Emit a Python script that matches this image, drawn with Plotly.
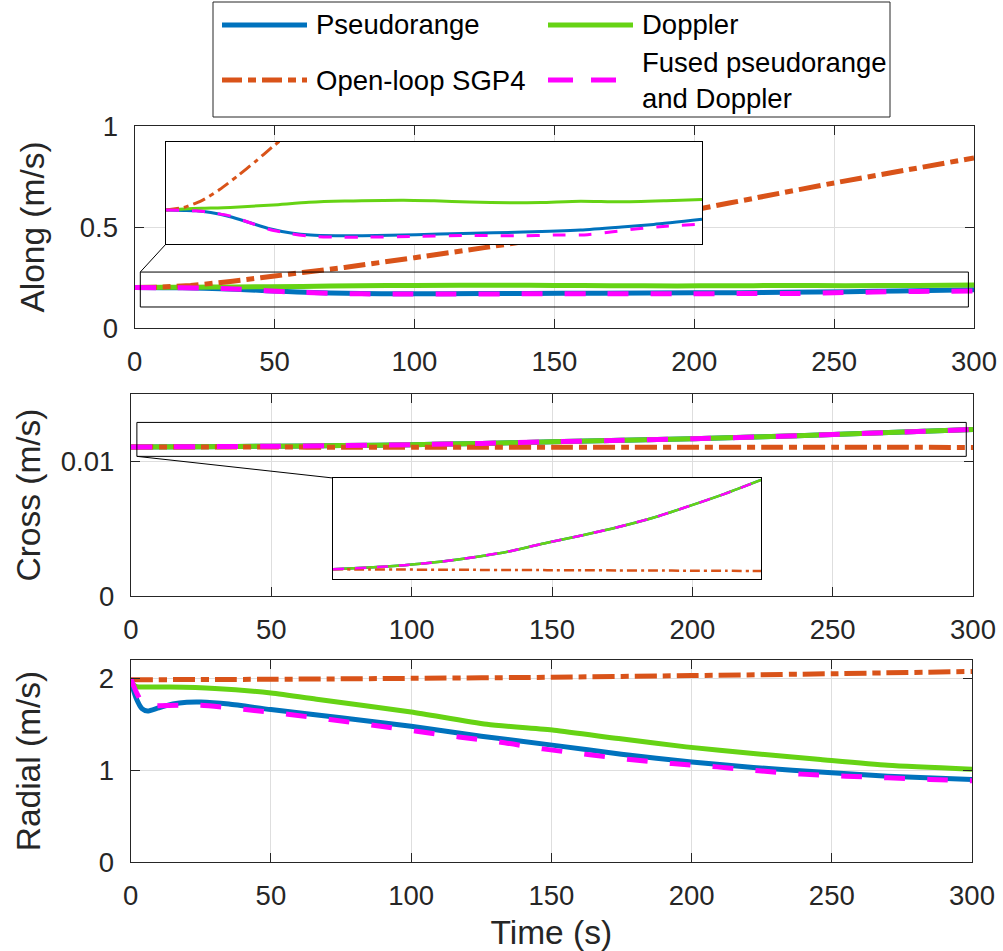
import plotly.graph_objects as go

# ---------------- data ----------------
time_ticks = [0, 50, 100, 150, 200, 250, 300]

# Along-track velocity error (m/s)
t_along_pr = [0, 10, 17, 25, 36, 47, 58, 70, 81, 95, 110, 140, 166, 200, 232, 255, 273, 300]
along_pr = [0.200, 0.1995, 0.199, 0.197, 0.192, 0.185, 0.178, 0.173, 0.1706, 0.1698, 0.1698,
            0.171, 0.1725, 0.174, 0.1765, 0.180, 0.183, 0.189]
t_along_dop = [0, 10, 20, 36, 60, 80, 100, 133, 150, 170, 194, 210, 232, 254, 280, 300]
along_dop = [0.200, 0.2012, 0.202, 0.203, 0.206, 0.209, 0.2105, 0.2116, 0.2108, 0.2095, 0.2085,
             0.2088, 0.2104, 0.2096, 0.211, 0.2124]
t_along_sgp4 = [0, 10, 20, 30, 40, 50, 60, 75, 100, 125, 150, 175, 200, 225, 250, 275, 300]
along_sgp4 = [0.200, 0.203, 0.211, 0.224, 0.240, 0.257, 0.275, 0.300, 0.348, 0.398, 0.452,
              0.518, 0.585, 0.652, 0.718, 0.780, 0.842]
t_along_fused = [0, 10, 17, 25, 36, 47, 58, 70, 81, 95, 110, 140, 166, 198, 217, 236, 250, 264, 280, 300]
along_fused = [0.200, 0.1995, 0.199, 0.197, 0.193, 0.185, 0.177, 0.172, 0.169, 0.168, 0.168,
               0.169, 0.170, 0.1697, 0.1705, 0.171, 0.1744, 0.178, 0.181, 0.1835]

# Cross-track velocity error (m/s)
t_cross = [0, 25, 50, 75, 100, 125, 150, 175, 200, 225, 250, 275, 300]
cross_pr = [0.011060, 0.011085, 0.011120, 0.011170, 0.011240, 0.011330, 0.011450,
            0.011560, 0.011680, 0.011820, 0.011990, 0.012170, 0.012370]
cross_dop = [0.011060, 0.011085, 0.011120, 0.011170, 0.011240, 0.011330, 0.011450,
             0.011560, 0.011680, 0.011820, 0.011990, 0.012170, 0.012370]
cross_sgp4 = [0.011060, 0.011058, 0.011056, 0.011054, 0.011052, 0.011050, 0.011048,
              0.011046, 0.011044, 0.011042, 0.011040, 0.011038, 0.011035]
cross_fused = [0.011060, 0.011085, 0.011120, 0.011170, 0.011240, 0.011330, 0.011450,
               0.011560, 0.011680, 0.011820, 0.011990, 0.012170, 0.012370]

# Radial velocity error (m/s)
t_rad_pr = [0, 2, 4, 6, 10, 15, 20, 25, 35, 50, 75, 100, 125, 151, 175, 200, 222, 250, 270, 300]
rad_pr = [1.97, 1.78, 1.67, 1.645, 1.68, 1.72, 1.74, 1.743, 1.72, 1.66, 1.57, 1.478, 1.37,
          1.27, 1.174, 1.09, 1.03, 0.971, 0.935, 0.899]
t_rad_dop = [0, 2, 5, 14, 30, 50, 67, 100, 127, 151, 174, 198, 222, 246, 270, 300]
rad_dop = [1.96, 1.91, 1.905, 1.905, 1.89, 1.84, 1.77, 1.634, 1.50, 1.435, 1.344, 1.254,
           1.181, 1.116, 1.054, 1.011]
t_rad_sgp4 = [0, 50, 100, 150, 200, 250, 300]
rad_sgp4 = [1.985, 1.99, 2.0, 2.012, 2.03, 2.05, 2.076]
t_rad_fused = [0, 2, 4, 6, 10, 25, 41, 56, 71, 86.5, 102, 117, 132, 147, 163, 178, 193, 209,
               224, 239, 255, 270, 285, 300]
rad_fused = [2.0, 1.85, 1.74, 1.70, 1.703, 1.707, 1.66, 1.609, 1.551, 1.489, 1.424, 1.362,
             1.305, 1.232, 1.17, 1.116, 1.072, 1.036, 0.993, 0.957, 0.935, 0.917, 0.899, 0.884]

names = ["Pseudorange", "Doppler", "Open-loop SGP4", "Fused pseudorange<br>and Doppler"]

# ---------------- layout geometry ----------------
W, H = 1003, 951
FONT = "Liberation Sans, Arial, Helvetica, sans-serif"
AX = "#262626"
GRID = "#dedede"
C_PR, C_DOP, C_SGP, C_FUS = "#0072BD", "#66D314", "#D95319", "#FF00FF"


def xdom(a, b):
    return [a / W, b / W]


def ydom(top, bottom):
    return [1 - bottom / H, 1 - top / H]


panels = {
    1: dict(x=xdom(134.7, 974), y=ydom(126, 328)),
    2: dict(x=xdom(131, 973), y=ydom(394, 596)),
    3: dict(x=xdom(130.7, 972), y=ydom(660, 862)),
    4: dict(x=xdom(166, 702), y=ydom(142, 244)),   # inset in Along
    5: dict(x=xdom(333, 761), y=ydom(478, 579)),   # inset in Cross
}

along_range = [0, 1]
cross_range = [0, 0.015]
rad_range = [0, 2.2]
along_inset_range = [0.16, 0.28]
cross_inset_range = [0.010918, 0.012399]
along_zoom_box = dict(t=[2, 298], v=[0.104, 0.277])
cross_zoom_box = dict(t=[2.1, 297.6], v=[0.01037, 0.01289])

fig = go.Figure()

main_w = 5
styles = [
    dict(color=C_PR, width=main_w),
    dict(color=C_DOP, width=main_w),
    dict(color=C_SGP, width=main_w, dash="22px,6px,8px,6px"),
    dict(color=C_FUS, width=main_w, dash="21px,22px"),
]


def add_set(series, xa, ya, line_styles):
    for i, (tx, vy) in enumerate(series):
        fig.add_trace(go.Scatter(
            x=tx, y=vy, mode="lines", name=names[i].replace("<br>", " "),
            line=dict(shape="spline", smoothing=0.6, **line_styles[i]),
            xaxis=xa, yaxis=ya, showlegend=False, hoverinfo="skip"))


along_series = [(t_along_pr, along_pr), (t_along_dop, along_dop),
                (t_along_sgp4, along_sgp4), (t_along_fused, along_fused)]
cross_series = [(t_cross, cross_pr), (t_cross, cross_dop),
                (t_cross, cross_sgp4), (t_cross, cross_fused)]
rad_series = [(t_rad_pr, rad_pr), (t_rad_dop, rad_dop),
              (t_rad_sgp4, rad_sgp4), (t_rad_fused, rad_fused)]

add_set(along_series, "x", "y", styles)
add_set(cross_series, "x2", "y2", styles)
add_set(rad_series, "x3", "y3", styles)

inset_a_styles = [
    dict(color=C_PR, width=3),
    dict(color=C_DOP, width=3),
    dict(color=C_SGP, width=3, dash="13px,5px,5px,5px"),
    dict(color=C_FUS, width=3, dash="13px,13px"),
]
inset_c_styles = [
    dict(color=C_PR, width=2.5),
    dict(color=C_DOP, width=2.5),
    dict(color=C_SGP, width=2.5, dash="10px,4px,3px,4px"),
    dict(color=C_FUS, width=2.5, dash="11px,11px"),
]
add_set(along_series, "x4", "y4", inset_a_styles)
add_set(cross_series, "x5", "y5", inset_c_styles)

tickfont = dict(family=FONT, size=27.5, color=AX)
titlefont = dict(family=FONT, size=33.5, color=AX)


def main_x(dom, title=None):
    d = dict(domain=dom, range=[0, 300], tickvals=time_ticks, ticks="inside", ticklen=9,
             tickwidth=1.3, tickcolor=AX, showline=True, linecolor=AX, linewidth=1.3,
             mirror="allticks", showgrid=True, gridcolor=GRID, gridwidth=1, zeroline=False,
             tickfont=tickfont, automargin=False, ticklabelstandoff=9, fixedrange=True)
    if title:
        d["title"] = dict(text=title, font=titlefont, standoff=13)
    return d


def main_y(dom, rng, ticks, title, standoff):
    return dict(domain=dom, range=rng, tickvals=ticks, ticks="inside", ticklen=9,
                tickwidth=1.3, tickcolor=AX, showline=True, linecolor=AX, linewidth=1.3,
                mirror="allticks", showgrid=True, gridcolor=GRID, gridwidth=1, zeroline=False,
                tickfont=tickfont, automargin=False, ticklabelstandoff=10, fixedrange=True,
                title=dict(text=title, font=titlefont, standoff=standoff))


def inset_axis(dom, rng, anchor):
    return dict(domain=dom, range=rng, showline=True, mirror=True, linecolor="black", linewidth=1,
                ticks="", showticklabels=False, showgrid=False, zeroline=False, anchor=anchor,
                automargin=False, fixedrange=True)


fig.update_layout(
    width=W, height=H,
    margin=dict(l=0, r=0, t=0, b=0),
    paper_bgcolor="white", plot_bgcolor="white",
    font=dict(family=FONT, color=AX),
    showlegend=False,
    xaxis=dict(main_x(panels[1]["x"]), anchor="y"),
    yaxis=dict(main_y(panels[1]["y"], along_range, [0, 0.5, 1], "Along (m/s)", 25), anchor="x"),
    xaxis2=dict(main_x(panels[2]["x"]), anchor="y2"),
    yaxis2=dict(main_y(panels[2]["y"], cross_range, [0, 0.01], "Cross (m/s)", 10), anchor="x2"),
    xaxis3=dict(main_x(panels[3]["x"], "Time (s)"), anchor="y3"),
    yaxis3=dict(main_y(panels[3]["y"], rad_range, [0, 1, 2], "Radial (m/s)", 48), anchor="x3"),
    xaxis4=inset_axis(panels[4]["x"], [0, 300], "y4"),
    yaxis4=inset_axis(panels[4]["y"], along_inset_range, "x4"),
    xaxis5=inset_axis(panels[5]["x"], [0, 300], "y5"),
    yaxis5=inset_axis(panels[5]["y"], cross_inset_range, "x5"),
)

# white backgrounds of the insets (drawn in the inset subplot, below its own traces)
fig.add_shape(type="rect", xref="x4", yref="y4", x0=0, x1=300,
              y0=along_inset_range[0], y1=along_inset_range[1],
              fillcolor="white", line=dict(width=0), layer="below")
fig.add_shape(type="rect", xref="x5", yref="y5", x0=0, x1=300,
              y0=cross_inset_range[0], y1=cross_inset_range[1],
              fillcolor="white", line=dict(width=0), layer="below")

# zoom rectangles on the main axes
fig.add_shape(type="rect", xref="x", yref="y", x0=along_zoom_box["t"][0], x1=along_zoom_box["t"][1],
              y0=along_zoom_box["v"][0], y1=along_zoom_box["v"][1],
              line=dict(color="black", width=1), fillcolor="rgba(0,0,0,0)", layer="above")
fig.add_shape(type="rect", xref="x2", yref="y2", x0=cross_zoom_box["t"][0], x1=cross_zoom_box["t"][1],
              y0=cross_zoom_box["v"][0], y1=cross_zoom_box["v"][1],
              line=dict(color="black", width=1), fillcolor="rgba(0,0,0,0)", layer="above")


def to_paper(dom_x, dom_y, xr, yr, t, v):
    px = dom_x[0] + (t - xr[0]) / (xr[1] - xr[0]) * (dom_x[1] - dom_x[0])
    py = dom_y[0] + (v - yr[0]) / (yr[1] - yr[0]) * (dom_y[1] - dom_y[0])
    return px, py


# connector: Along zoom box top-left -> inset bottom-left
ax0, ay0 = to_paper(panels[1]["x"], panels[1]["y"], [0, 300], along_range,
                    along_zoom_box["t"][0], along_zoom_box["v"][1])
fig.add_shape(type="line", xref="paper", yref="paper", x0=ax0, y0=ay0,
              x1=panels[4]["x"][0], y1=panels[4]["y"][0], line=dict(color="black", width=1), layer="above")
# connector: Cross zoom box bottom-left -> inset top-left
cx0, cy0 = to_paper(panels[2]["x"], panels[2]["y"], [0, 300], cross_range,
                    cross_zoom_box["t"][0], cross_zoom_box["v"][0])
fig.add_shape(type="line", xref="paper", yref="paper", x0=cx0, y0=cy0,
              x1=panels[5]["x"][0], y1=panels[5]["y"][1], line=dict(color="black", width=1), layer="above")

# ---------------- legend (2 columns, boxed) ----------------
legend_box = dict(l=213, r=890, t=2, b=117)
legend_cols = [222, 548]        # left end of the key line in each column (px)
legend_rows = [25, 80]          # vertical centre of each row (px)
key_len = 85
text_gap = 8
legend_styles = [
    dict(color=C_PR, width=5),
    dict(color=C_DOP, width=5),
    dict(color=C_SGP, width=5, dash="20px,6px,8px,6px"),
    dict(color=C_FUS, width=5, dash="25px,18px"),
]

fig.add_shape(type="rect", xref="paper", yref="paper",
              x0=legend_box["l"] / W, x1=legend_box["r"] / W,
              y0=1 - legend_box["b"] / H, y1=1 - legend_box["t"] / H,
              fillcolor="white", line=dict(color=AX, width=1), layer="above")
for i, name in enumerate(names):
    col, row = i % 2, i // 2
    x0 = legend_cols[col]
    yc = 1 - legend_rows[row] / H
    fig.add_shape(type="line", xref="paper", yref="paper", x0=x0 / W, x1=(x0 + key_len) / W,
                  y0=yc, y1=yc, line=legend_styles[i], layer="above")
    fig.add_annotation(text=name, xref="paper", yref="paper", x=(x0 + key_len + text_gap) / W, y=yc,
                       xanchor="left", yanchor="middle", align="left", showarrow=False, borderpad=0,
                       font=dict(family=FONT, size=27.5, color="black"))

# remove the browser's default 8px page margin so the figure sits at the window origin
fig.write_html("out.html", config={"displayModeBar": False},
               post_script="document.body.style.margin='0px';")
